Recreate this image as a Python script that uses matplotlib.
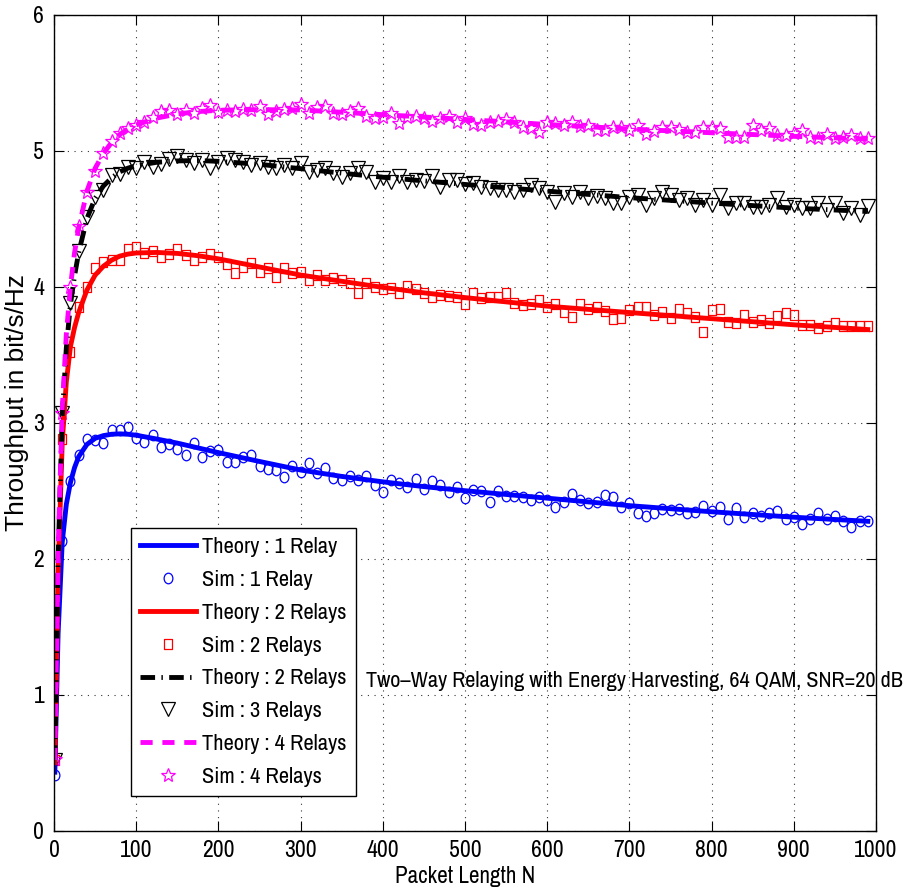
import numpy as np
import matplotlib
matplotlib.use("Agg")
import matplotlib.pyplot as plt
from matplotlib import font_manager
from matplotlib.font_manager import FontProperties
from matplotlib.path import Path
from matplotlib.textpath import TextPath
from matplotlib.transforms import Affine2D
from matplotlib.markers import MarkerStyle


# ---------------------------------------------------------
# Data
# ---------------------------------------------------------

# Theory curves, packet length N
theory_n = [1, 5, 10, 15, 20, 25, 30, 40, 50, 60, 70, 80, 90, 100, 125, 150, 175,
            200, 250, 300, 350, 400, 450, 500, 600, 700, 800, 900, 990]

theory_1relay = [0.43, 1.45, 2.12, 2.40, 2.56, 2.67, 2.75, 2.84, 2.885, 2.905, 2.915, 2.918,
                 2.915, 2.908, 2.88, 2.85, 2.815, 2.78, 2.715, 2.652, 2.605, 2.565, 2.53,
                 2.50, 2.445, 2.39, 2.345, 2.305, 2.275]
theory_2relays = [0.50, 1.90, 2.85, 3.30, 3.56, 3.70, 3.81, 3.975, 4.085, 4.15, 4.195, 4.225,
                  4.24, 4.248, 4.252, 4.245, 4.228, 4.205, 4.145, 4.086, 4.04, 3.995, 3.955,
                  3.92, 3.857, 3.81, 3.765, 3.72, 3.685]
theory_3relays = [0.52, 2.00, 3.05, 3.55, 3.87, 4.08, 4.25, 4.50, 4.65, 4.74, 4.80, 4.845,
                  4.872, 4.89, 4.915, 4.925, 4.928, 4.922, 4.90, 4.868, 4.835, 4.805, 4.778,
                  4.752, 4.703, 4.655, 4.615, 4.578, 4.553]
theory_4relays = [0.52, 2.05, 3.10, 3.65, 4.00, 4.25, 4.43, 4.70, 4.87, 4.98, 5.06, 5.12,
                  5.16, 5.19, 5.24, 5.27, 5.288, 5.297, 5.302, 5.30, 5.283, 5.265, 5.248,
                  5.23, 5.193, 5.16, 5.132, 5.106, 5.085]

# Simulation points, one every 10 symbols
sim_n = [1] + list(range(10, 1000, 10))

sim_1relay = [
    0.41, 2.13, 2.57, 2.76, 2.88, 2.87, 2.85, 2.95, 2.95, 2.97,
    2.89, 2.86, 2.91, 2.82, 2.84, 2.81, 2.76, 2.85, 2.75, 2.79,
    2.80, 2.71, 2.71, 2.745, 2.76, 2.68, 2.66, 2.65, 2.60, 2.68,
    2.64, 2.70, 2.63, 2.665, 2.59, 2.58, 2.61, 2.58, 2.61, 2.54,
    2.49, 2.58, 2.56, 2.525, 2.585, 2.51, 2.57, 2.54, 2.49, 2.525,
    2.445, 2.505, 2.50, 2.42, 2.495, 2.46, 2.46, 2.455, 2.43, 2.455,
    2.435, 2.38, 2.42, 2.475, 2.43, 2.41, 2.42, 2.468, 2.45, 2.378,
    2.412, 2.339, 2.314, 2.339, 2.363, 2.358, 2.363, 2.339, 2.346, 2.388,
    2.353, 2.383, 2.29, 2.371, 2.31, 2.339, 2.314, 2.339, 2.353, 2.29,
    2.304, 2.255, 2.29, 2.339, 2.29, 2.314, 2.28, 2.236, 2.28, 2.28]

sim_2relays = [
    0.52, 2.88, 3.52, 3.85, 4.00, 4.14, 4.18, 4.20, 4.20, 4.28,
    4.29, 4.245, 4.26, 4.22, 4.24, 4.275, 4.235, 4.20, 4.22, 4.241,
    4.22, 4.167, 4.103, 4.147, 4.171, 4.11, 4.135, 4.069, 4.135, 4.098,
    4.11, 4.049, 4.086, 4.049, 4.061, 4.049, 4.03, 3.956, 4.03, 4.0,
    3.981, 3.988, 3.956, 4.005, 3.981, 3.951, 3.927, 3.939, 3.932, 3.927,
    3.873, 3.951, 3.914, 3.927, 3.927, 3.951, 3.883, 3.865, 3.873, 3.902,
    3.851, 3.873, 3.817, 3.78, 3.873, 3.834, 3.851, 3.82, 3.76, 3.767,
    3.828, 3.853, 3.853, 3.792, 3.816, 3.767, 3.833, 3.804, 3.774, 3.67,
    3.828, 3.833, 3.743, 3.735, 3.792, 3.743, 3.755, 3.735, 3.784, 3.804,
    3.792, 3.72, 3.72, 3.695, 3.708, 3.733, 3.708, 3.713, 3.713, 3.713]

sim_3relays = [
    0.52, 3.07, 3.88, 4.26, 4.51, 4.66, 4.71, 4.82, 4.83, 4.88,
    4.87, 4.92, 4.88, 4.90, 4.94, 4.96, 4.93, 4.91, 4.932, 4.87,
    4.92, 4.944, 4.932, 4.92, 4.895, 4.907, 4.883, 4.871, 4.895, 4.871,
    4.907, 4.846, 4.858, 4.871, 4.834, 4.81, 4.834, 4.871, 4.846, 4.772,
    4.797, 4.772, 4.814, 4.772, 4.785, 4.78, 4.814, 4.736, 4.785, 4.785,
    4.756, 4.76, 4.736, 4.724, 4.711, 4.711, 4.699, 4.711, 4.748, 4.724,
    4.699, 4.626, 4.687, 4.662, 4.699, 4.65, 4.667, 4.65, 4.613, 4.613,
    4.662, 4.674, 4.601, 4.65, 4.699, 4.674, 4.637, 4.65, 4.601, 4.637,
    4.601, 4.674, 4.576, 4.613, 4.613, 4.588, 4.588, 4.601, 4.65, 4.588,
    4.601, 4.576, 4.576, 4.613, 4.564, 4.618, 4.539, 4.576, 4.527, 4.593]

sim_4relays = [
    0.53, 3.07, 4.00, 4.45, 4.70, 4.85, 4.98, 5.07, 5.13, 5.165,
    5.19, 5.21, 5.25, 5.29, 5.30, 5.27, 5.30, 5.28, 5.311, 5.336,
    5.287, 5.299, 5.294, 5.304, 5.299, 5.328, 5.27, 5.294, 5.304, 5.311,
    5.343, 5.275, 5.319, 5.328, 5.279, 5.27, 5.294, 5.311, 5.255, 5.238,
    5.245, 5.279, 5.201, 5.245, 5.255, 5.238, 5.221, 5.238, 5.255, 5.213,
    5.238, 5.196, 5.189, 5.213, 5.221, 5.23, 5.213, 5.172, 5.165, 5.14,
    5.213, 5.206, 5.189, 5.213, 5.182, 5.189, 5.152, 5.152, 5.176, 5.176,
    5.152, 5.188, 5.123, 5.147, 5.176, 5.172, 5.157, 5.14, 5.14, 5.176,
    5.176, 5.164, 5.098, 5.098, 5.098, 5.188, 5.152, 5.164, 5.115, 5.115,
    5.127, 5.152, 5.103, 5.091, 5.123, 5.091, 5.103, 5.115, 5.091, 5.091]

x_ticks = [0, 100, 200, 300, 400, 500, 600, 700, 800, 900, 1000]
y_ticks = [0, 1, 2, 3, 4, 5, 6]

labels = ["Theory : 1 Relay", "Sim : 1 Relay", "Theory : 2 Relays", "Sim : 2 Relays",
          "Theory : 2 Relays", "Sim : 3 Relays", "Theory : 4 Relays", "Sim : 4 Relays"]
annotation = "Two\u2013Way Relaying with Energy Harvesting, 64 QAM, SNR=20 dB"


# ---------------------------------------------------------
# Fonts: the source is a horizontally squeezed MATLAB figure,
# so use a narrow face when one exists and size it by width
# ---------------------------------------------------------

DPI = 100
available = {f.name for f in font_manager.fontManager.ttflist}
narrow = "Archivo Narrow" if "Archivo Narrow" in available else "Liberation Sans"
plt.rcParams["font.family"] = [narrow, "DejaVu Sans"]


def size_for_width(text, family, width_px):
    ext = TextPath((0, 0), text, size=100, prop=FontProperties(family=family)).get_extents()
    return 100 * (width_px * 72 / DPI) / ext.width


tick_fs = size_for_width("1000", narrow, 41)
legend_fs = size_for_width("Theory : 2 Relays", narrow, 143)
xlabel_fs = size_for_width("Packet Length N", narrow, 137)
note_fs = size_for_width(annotation, narrow, 536)
ylabel_fs = size_for_width("Throughput in bit/s/Hz", "Liberation Sans", 255)

# Slightly squeezed markers, like the source
ellipse = MarkerStyle(Affine2D().scale(0.83, 1.0).transform_path(Path.unit_circle()))
rect = MarkerStyle(Affine2D().translate(-0.5, -0.5).scale(0.9, 1.0)
                   .transform_path(Path.unit_rectangle()))

lw = 3.5
mew = 0.9
dashdot = (0, (3.0, 1.3, 0.3, 1.3))
dashed = (0, (2.5, 2.0))


# ---------------------------------------------------------
# Plot
# ---------------------------------------------------------

fig = plt.figure(figsize=(9.06, 8.93), dpi=DPI)
ax = fig.add_axes([0.0596, 0.0698, 0.9073, 0.9137])

sim_style = dict(linestyle="none", markerfacecolor="none", markeredgewidth=mew)
ax.plot(sim_n, sim_1relay, marker=ellipse, markersize=7.6, markeredgecolor="blue", **sim_style)
ax.plot(sim_n, sim_2relays, marker=rect, markersize=6.8, markeredgecolor="red", **sim_style)
ax.plot(sim_n, sim_3relays, marker="v", markersize=9.5, markeredgecolor="black", **sim_style)
ax.plot(sim_n, sim_4relays, marker="*", markersize=10.5, markeredgecolor="magenta", **sim_style)

ax.plot(theory_n, theory_1relay, color="blue", linewidth=lw)
ax.plot(theory_n, theory_2relays, color="red", linewidth=lw)
ax.plot(theory_n, theory_3relays, color="black", linewidth=lw, linestyle=dashdot,
        dash_capstyle="butt")
ax.plot(theory_n, theory_4relays, color="magenta", linewidth=lw, linestyle=dashed,
        dash_capstyle="butt")

ax.set_xlim(0, 1000)
ax.set_ylim(0, 6)
ax.set_xticks(x_ticks)
ax.set_yticks(y_ticks)
ax.tick_params(direction="in", length=7, width=0.8, top=True, right=True,
               labelsize=tick_fs, pad=7)
for spine in ax.spines.values():
    spine.set_linewidth(1.0)

# MATLAB-like dotted grid
ax.grid(True, color="black", linestyle=(0, (1, 5)), linewidth=0.8, alpha=0.8)

ax.set_xlabel("Packet Length N", fontsize=xlabel_fs, labelpad=3)
ax.set_ylabel("Throughput in bit/s/Hz", fontsize=ylabel_fs,
              family=["Liberation Sans", "DejaVu Sans"])
ax.yaxis.set_label_coords(-0.031, 0.525)

ax.text(380, 1.10, annotation, fontsize=note_fs, ha="left", va="center")


# ---------------------------------------------------------
# Legend (proxy handles), row spacing fitted to the source box
# ---------------------------------------------------------

handles = [
    plt.Line2D([], [], color="blue", linewidth=lw),
    plt.Line2D([], [], marker=ellipse, markersize=7.6, markeredgecolor="blue", **sim_style),
    plt.Line2D([], [], color="red", linewidth=lw),
    plt.Line2D([], [], marker=rect, markersize=6.8, markeredgecolor="red", **sim_style),
    plt.Line2D([], [], color="black", linewidth=lw, linestyle=dashdot),
    plt.Line2D([], [], marker="v", markersize=9.5, markeredgecolor="black", **sim_style),
    plt.Line2D([], [], color="magenta", linewidth=lw, linestyle=dashed),
    plt.Line2D([], [], marker="*", markersize=10.5, markeredgecolor="magenta", **sim_style),
]

fs_px = legend_fs * DPI / 72


def make_legend(spacing):
    leg = ax.legend(handles, labels, loc="upper left", bbox_to_anchor=(0.0937, 0.371),
                    prop=FontProperties(family=narrow, size=legend_fs),
                    frameon=True, fancybox=False, framealpha=1, edgecolor="black",
                    borderpad=9 / fs_px, handlelength=56 / fs_px,
                    handletextpad=6 / fs_px, labelspacing=spacing, borderaxespad=0)
    leg.get_frame().set_linewidth(1.0)
    return leg


leg = make_legend(0.4)
fig.canvas.draw()
box_h = leg.get_window_extent().height
leg.remove()
leg = make_legend(0.4 + (268 - box_h) / (7 * fs_px))

fig.savefig("out.png", dpi=DPI)
plt.close(fig)
